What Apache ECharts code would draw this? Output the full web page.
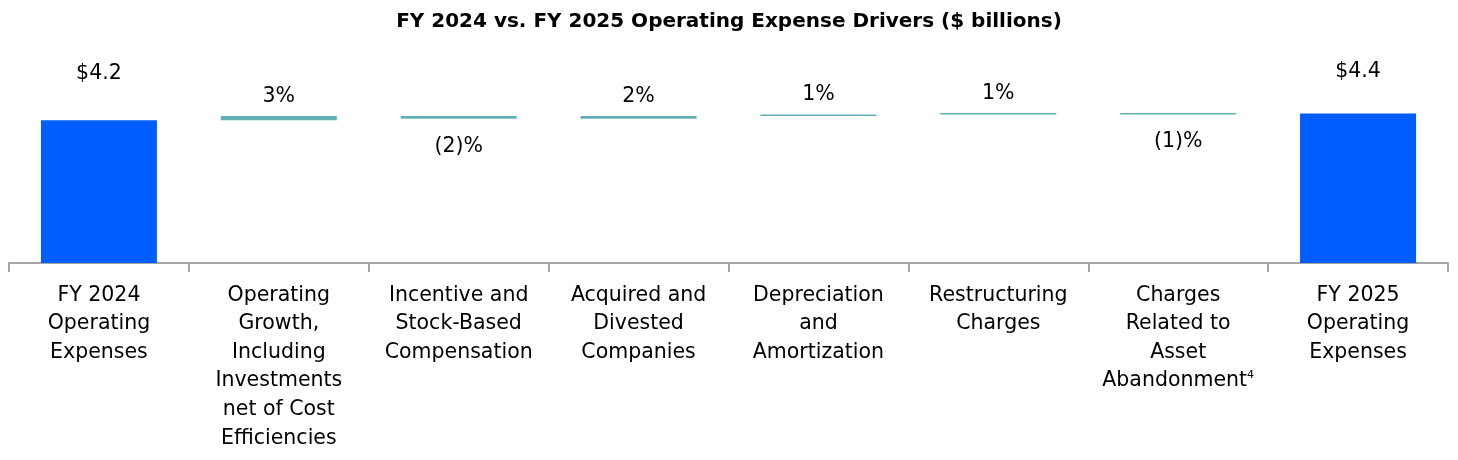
<!DOCTYPE html>
<html>
<head>
<meta charset="utf-8">
<script src="https://cdn.jsdelivr.net/npm/echarts@6/dist/echarts.min.js"></script>
<style>
html,body{margin:0;padding:0;background:#fff;}
#chart{width:1458px;height:460px;}
</style>
</head>
<body>
<div id="chart"></div>
<script>
const titleText = 'FY 2024 vs. FY 2025 Operating Expense Drivers ($ billions)';
const categories = [
  'FY 2024\nOperating\nExpenses',
  'Operating\nGrowth,\nIncluding\nInvestments\nnet of Cost\nEfficiencies',
  'Incentive and\nStock-Based\nCompensation',
  'Acquired and\nDivested\nCompanies',
  'Depreciation\nand\nAmortization',
  'Restructuring\nCharges',
  'Charges\nRelated to\nAsset\nAbandonment{sup}',
  'FY 2025\nOperating\nExpenses'
];
const startTotal = 4.2;
const endTotal = 4.4;
const deltaPct = [3, -2, 2, 1, 1, -1];
const totalLabels = ['$4.2', '$4.4'];
const deltaLabels = ['3%', '(2)%', '2%', '1%', '1%', '(1)%'];

// build waterfall series from the data
const baseData = [], deltaData = [], totalData = [];
let level = startTotal;
totalData.push({value: startTotal, label: {formatter: totalLabels[0], distance: 36}});
baseData.push('-'); deltaData.push('-');
deltaPct.forEach((p, i) => {
  const d = startTotal * p / 100;
  const next = level + d;
  const lo = Math.min(level, next);
  baseData.push(lo);
  deltaData.push({
    value: Math.abs(d),
    label: {
      formatter: deltaLabels[i],
      position: p >= 0 ? 'top' : 'bottom',
      distance: p >= 0 ? 9 : 17
    }
  });
  totalData.push('-');
  level = next;
});
totalData.push({value: endTotal, label: {formatter: totalLabels[1], distance: 31}});
baseData.push('-'); deltaData.push('-');

const font = 'DejaVu Sans, Liberation Sans, Arial, sans-serif';
const chart = echarts.init(document.getElementById('chart'));
chart.setOption({
  animation: false,
  title: {
    text: titleText,
    left: 'center',
    top: 7,
    textStyle: {fontFamily: font, fontSize: 20, fontWeight: 'bold', color: '#000'}
  },
  grid: {left: 9, right: 10, top: 59, bottom: 197, containLabel: false},
  xAxis: {
    type: 'category',
    data: categories,
    axisLine: {lineStyle: {color: '#a6a6a6', width: 2}},
    axisTick: {show: true, length: 9, lineStyle: {color: '#a6a6a6', width: 2}},
    axisLabel: {
      interval: 0,
      margin: 18,
      fontFamily: font,
      fontSize: 20.5,
      lineHeight: 28.6,
      color: '#000',
      formatter: v => v.replace('{sup}', '{s|4}'),
      rich: {
        s: {fontFamily: font, fontSize: 11, lineHeight: 28.6, color: '#000', padding: [0, 0, 12, 0]}
      }
    }
  },
  yAxis: {type: 'value', min: 0, max: 6, show: false, splitLine: {show: false}},
  series: [
    {
      name: 'base', type: 'bar', stack: 'w', data: baseData, barWidth: 116,
      itemStyle: {color: 'transparent'}, silent: true
    },
    {
      name: 'delta', type: 'bar', stack: 'w', data: deltaData, barWidth: 116,
      itemStyle: {color: '#62b0b6'},
      label: {show: true, fontFamily: font, fontSize: 20.5, color: '#000'}
    },
    {
      name: 'total', type: 'bar', stack: 'w', data: totalData, barWidth: 116,
      itemStyle: {color: '#005eff'},
      label: {show: true, position: 'top', fontFamily: font, fontSize: 20.5, color: '#000'}
    }
  ]
});
</script>
</body>
</html>
